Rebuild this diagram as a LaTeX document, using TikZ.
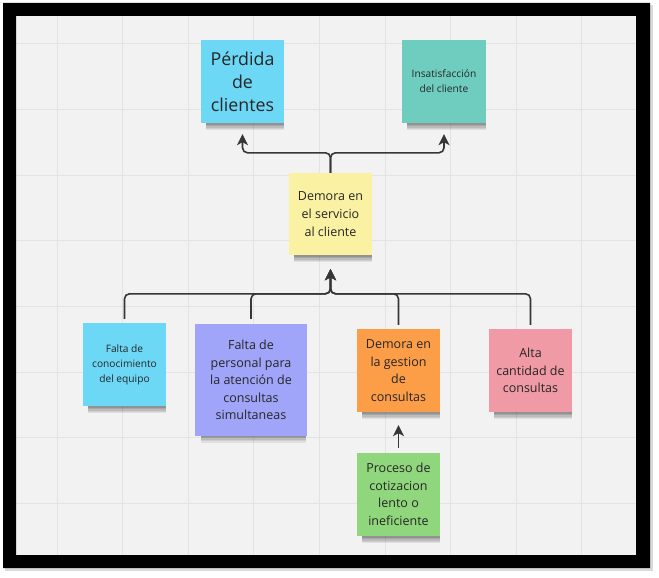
\documentclass[tikz,border=0pt]{standalone}
\usepackage{fontspec}
\setmainfont{Open Sans}
\usetikzlibrary{arrows.meta,shadows}
\definecolor{bgc}{HTML}{F2F2F2}
\definecolor{gridc}{HTML}{E3E3E3}
\definecolor{linec}{HTML}{363636}
\definecolor{txt}{HTML}{262626}
\definecolor{cblue}{HTML}{6DD8F6}
\definecolor{cteal}{HTML}{6FCDC0}
\definecolor{cyellow}{HTML}{FAF1A2}
\definecolor{clav}{HTML}{A0A5F9}
\definecolor{corange}{HTML}{FC9D48}
\definecolor{cpink}{HTML}{F09AA6}
\definecolor{cgreen}{HTML}{90D67C}
\newcommand{\fsmall}{\fontsize{10.2}{15}\selectfont}
\newcommand{\fmed}{\fontsize{12.5}{17.6}\selectfont}
\newcommand{\fbig}{\fontsize{17.8}{23}\selectfont}
\begin{document}
\begin{tikzpicture}[x=1pt,y=-1pt,
  note/.style={draw=none, minimum width=83pt, minimum height=83pt, align=center,
    text=txt, inner sep=2pt,
    drop shadow={shadow xshift=2.5pt, shadow yshift=-10.5pt, shadow scale=0.94, opacity=0.07, fill=black},
    drop shadow={shadow xshift=2.5pt, shadow yshift=-9pt, shadow scale=0.94, opacity=0.08, fill=black},
    drop shadow={shadow xshift=2.5pt, shadow yshift=-7.5pt, shadow scale=0.94, opacity=0.09, fill=black},
    drop shadow={shadow xshift=2.5pt, shadow yshift=-6pt, shadow scale=0.94, opacity=0.1, fill=black},
    drop shadow={shadow xshift=2.5pt, shadow yshift=-4.5pt, shadow scale=0.94, opacity=0.12, fill=black},
    drop shadow={shadow xshift=2.5pt, shadow yshift=-3pt, shadow scale=0.94, opacity=0.14, fill=black}},
  conn/.style={draw=linec, line width=1.6pt, rounded corners=5pt},
  arr/.style={-{Stealth[length=11pt,width=11pt,inset=3pt]}}]
\useasboundingbox (0,0) rectangle (659,578);
% frame shadow and frame
\fill[black!25, opacity=0.6] (5,5) rectangle (653,571);
\fill[bgc] (16,16) rectangle (636,555);
\foreach \i in {0,...,8} \draw[gridc, line width=1pt] ({57+65.6*\i},16) -- ({57+65.6*\i},555);
\foreach \i in {0,...,7} \draw[gridc, line width=1pt] (16,{44+65.6*\i}) -- (636,{44+65.6*\i});
\fill[black, even odd rule] (3,3) rectangle (650,568) (16,16) rectangle (636,555);
% nodes
\node[note, fill=cblue, font=\fbig] (perd) at (242.5,81.5) {Pérdida\\de\\clientes};
\node[note, fill=cteal, minimum width=84pt, font=\fsmall] (insat) at (444,81.5) {Insatisfacción\\del cliente};
\node[note, fill=cyellow, minimum height=82pt, font=\fmed] (yel) at (330.5,214) {Demora en\\el servicio\\al cliente};
\node[note, fill=cblue, font=\fsmall] (falta) at (124.5,364.5) {Falta de\\conocimiento\\del equipo};
\node[note, fill=clav, minimum width=112pt, minimum height=112pt, font=\fmed] (pers) at (251,380) {Falta de\\personal para\\la atención de\\consultas\\simultaneas};
\node[note, fill=corange, font=\fmed] (gest) at (398.5,370.5) {Demora en\\la gestion\\de\\consultas};
\node[note, fill=cpink, font=\fmed] (alta) at (530.5,370.5) {Alta\\cantidad de\\consultas};
\node[note, fill=cgreen, font=\fmed] (proc) at (398.5,494.5) {Proceso de\\cotizacion\\lento o\\ineficiente};
% connectors top
\draw[conn,arr,shorten >=11pt] (yel.north) -- ++(0,-20) -| (perd.south);
\draw[conn,arr,shorten >=11pt] (yel.north) -- ++(0,-20) -| (insat.south);
% connectors bottom
\draw[conn,arr,shorten <=4pt,shorten >=14pt] (falta.north) -- ++(0,-29) -| (yel.south);
\draw[conn,arr,shorten <=5pt,shorten >=14pt] (pers.north) -- ++(0,-30) -| (yel.south);
\draw[conn,arr,shorten <=4pt,shorten >=14pt] (gest.north) -- ++(0,-35) -| (yel.south);
\draw[conn,arr,shorten <=4pt,shorten >=14pt] (alta.north) -- ++(0,-35) -| (yel.south);
\draw[conn,arr,shorten <=5pt,shorten >=13pt] (proc.north) -- (gest.south);
\end{tikzpicture}
\end{document}
